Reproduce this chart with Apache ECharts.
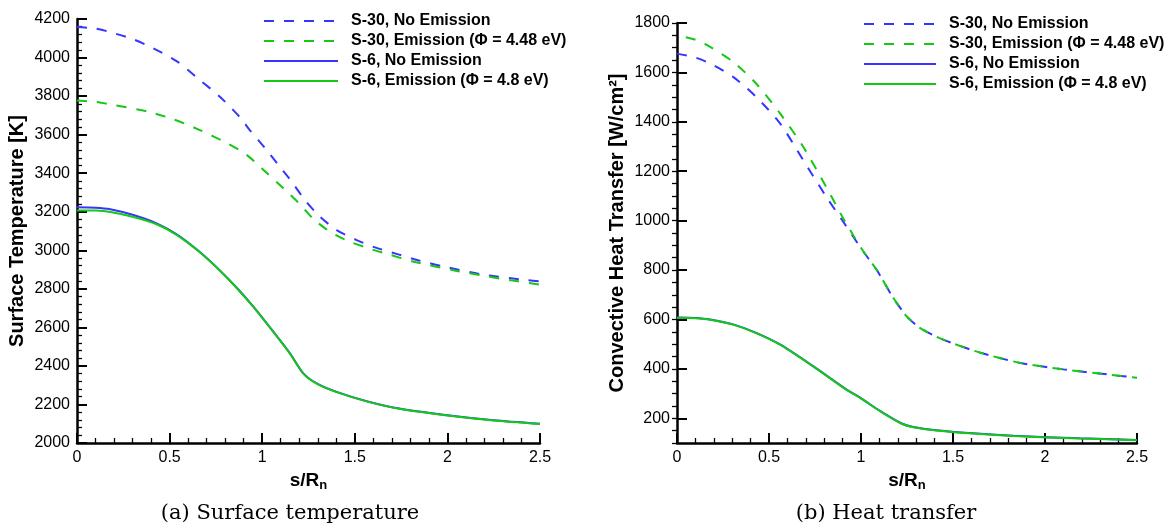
<!DOCTYPE html>
<html>
<head>
<meta charset="utf-8">
<script src="https://cdn.jsdelivr.net/npm/echarts@6/dist/echarts.min.js"></script>
<style>
html,body{margin:0;padding:0;background:#fff;}
#chart{width:1172px;height:527px;}
</style>
</head>
<body>
<div id="chart"></div>
<script>
// ---------- data (s/Rn, value) ----------
// (a) Surface temperature [K]
const tempS30NoEmission = [[0,4160],[0.1,4150],[0.16,4137],[0.3,4096],[0.41,4049],[0.54,3980],[0.66,3886],[0.77,3798],[0.88,3690],[0.934,3622],[1.015,3530],[1.087,3443],[1.159,3356],[1.231,3260],[1.312,3174],[1.402,3105],[1.51,3053],[1.609,3015],[1.73,2980],[1.85,2946],[1.98,2916],[2.19,2874],[2.43,2845],[2.5,2838]];
const tempS30Emission = [[0,3777],[0.1,3770],[0.18,3757],[0.38,3720],[0.52,3680],[0.66,3625],[0.81,3556],[0.916,3495],[1.024,3402],[1.114,3322],[1.195,3247],[1.276,3163],[1.366,3096],[1.474,3044],[1.591,3005],[1.67,2982],[1.83,2938],[2.05,2893],[2.28,2854],[2.5,2822]];
const tempS6NoEmission = [[0,3223],[0.1,3221],[0.18,3213],[0.3,3184],[0.43,3140],[0.54,3082],[0.66,2994],[0.76,2906],[0.86,2808],[0.95,2710],[1.05,2590],[1.15,2465],[1.222,2361],[1.294,2309],[1.402,2265],[1.564,2217],[1.74,2179],[2.0,2144],[2.25,2118],[2.5,2100]];
const tempS6Emission = [[0,3207],[0.1,3206],[0.18,3199],[0.3,3174],[0.43,3135],[0.54,3079],[0.66,2992],[0.76,2905],[0.86,2807],[0.95,2709],[1.05,2589],[1.15,2464],[1.222,2360],[1.294,2308],[1.402,2264],[1.564,2216],[1.74,2178],[2.0,2143],[2.25,2117],[2.5,2099]];
// (b) Convective heat transfer [W/cm2]
const heatS30NoEmission = [[0,1676],[0.1,1660],[0.18,1636],[0.305,1582],[0.43,1501],[0.56,1394],[0.685,1246],[0.81,1098],[0.913,985],[1.0125,875],[1.085,801],[1.176,687],[1.248,613],[1.32,566],[1.41,530],[1.5,503],[1.65,465],[1.86,425],[2.1,398],[2.335,378],[2.5,364]];
const heatS30Emission = [[0,1750],[0.1,1732],[0.18,1703],[0.305,1643],[0.43,1555],[0.56,1434],[0.685,1300],[0.81,1138],[0.913,997],[1.0125,876],[1.085,801],[1.176,687],[1.248,613],[1.32,566],[1.41,530],[1.5,503],[1.65,465],[1.86,425],[2.1,398],[2.335,378],[2.5,364]];
const heatS6NoEmission = [[0,608],[0.1,606],[0.18,600],[0.305,580],[0.43,546],[0.56,499],[0.74,411],[0.92,317],[0.995,284],[1.103,230],[1.221,179],[1.284,165],[1.41,152],[1.63,138],[1.83,129],[2.19,119],[2.5,112]];
const heatS6Emission = [[0,607],[0.1,605],[0.18,599],[0.305,579],[0.43,545],[0.56,498],[0.74,410],[0.92,316],[0.995,283],[1.103,229],[1.221,178],[1.284,164],[1.41,151],[1.63,137],[1.83,128],[2.19,118],[2.5,111]];

const seriesNames = ['S-30, No Emission','S-30, Emission (\u03A6 = 4.48 eV)','S-6, No Emission','S-6, Emission (\u03A6 = 4.8 eV)'];
const heatTicks = [200,400,600,800,1000,1200,1400,1600,1800];
const captions = ['(a) Surface temperature','(b) Heat transfer'];
const yTitles = ['Surface Temperature [K]','Convective Heat Transfer [W/cm\u00B2]'];

// ---------- styles ----------
const BLUE = '#3535ff';
const GREEN = '#14c814';
const FONT = 'Liberation Sans';
const DASH = [10, 10];
const plain = v => String(v);

const chart = echarts.init(document.getElementById('chart'), null, {renderer:'canvas'});

function xAxisCfg(gridIndex){
  return {
    type:'value', gridIndex, min:0, max:2.5, interval:0.5,
    name:'{a|s/R}{b|n}', nameLocation:'middle', nameGap:19,
    nameTextStyle:{ rich:{
      a:{fontFamily:FONT,fontWeight:'bold',fontSize:19,color:'#000'},
      b:{fontFamily:FONT,fontWeight:'bold',fontSize:13,color:'#000',padding:[10,0,0,0]}
    }},
    axisLine:{show:true,onZero:false,lineStyle:{color:'#000',width:2.5}},
    axisTick:{show:true,inside:true,length:10,lineStyle:{color:'#000',width:2}},
    minorTick:{show:true,splitNumber:5,length:5,lineStyle:{color:'#000',width:1.3}},
    axisLabel:{color:'#000',fontFamily:FONT,fontSize:16,margin:7,formatter:plain},
    splitLine:{show:false}
  };
}
function legendCfg(left, top, w){
  return {
    left, top, padding:0, orient:'vertical', itemWidth:w, itemHeight:14, itemGap:4,
    data:seriesNames, selectedMode:false,
    itemStyle:{opacity:0},
    textStyle:{fontFamily:FONT,fontWeight:'bold',fontSize:16,lineHeight:16,color:'#000',padding:[0,0,0,8]}
  };
}
function lineSeries(name, xi, data, color, dashed, dashOffset){
  const ls = {color, width:2};
  if (dashed) { ls.type = DASH; ls.dashOffset = dashOffset || 0; }
  return {name, type:'line', xAxisIndex:xi, yAxisIndex:xi, data, symbol:'none', showSymbol:false,
          smooth:0.25, color, lineStyle:ls};
}

const option = {
  backgroundColor:'#fff',
  animation:false,
  grid:[
    {left:77, right:632, top:19, bottom:84},
    {left:677, right:35, top:23, bottom:84}
  ],
  legend:[ legendCfg(263, 13, 74), legendCfg(863, 16, 72) ],
  xAxis:[xAxisCfg(0), xAxisCfg(1)],
  yAxis:[
    {
      type:'value', gridIndex:0, min:2000, max:4200, interval:200,
      name:yTitles[0], nameLocation:'middle', nameRotate:90, nameGap:50,
      nameTextStyle:{fontFamily:FONT,fontWeight:'bold',fontSize:20,color:'#000'},
      axisLine:{show:true,onZero:false,lineStyle:{color:'#000',width:2.5}},
      axisTick:{show:true,inside:true,length:10,lineStyle:{color:'#000',width:2}},
      minorTick:{show:true,splitNumber:5,length:5,lineStyle:{color:'#000',width:1.3}},
      axisLabel:{color:'#000',fontFamily:FONT,fontSize:16,margin:7,formatter:plain},
      splitLine:{show:false}
    },
    {
      type:'value', gridIndex:1, min:100, max:1800,
      name:yTitles[1], nameLocation:'middle', nameRotate:90, nameGap:50,
      nameTextStyle:{fontFamily:FONT,fontWeight:'bold',fontSize:20,color:'#000'},
      axisLine:{show:true,onZero:false,lineStyle:{color:'#000',width:2.5}},
      axisTick:{show:true,inside:true,length:10,customValues:heatTicks,lineStyle:{color:'#000',width:2}},
      axisLabel:{color:'#000',fontFamily:FONT,fontSize:16,margin:7,customValues:heatTicks,formatter:plain},
      splitLine:{show:false}
    },
    {
      type:'value', gridIndex:1, min:100, max:1800, interval:50,
      axisLine:{show:false},
      axisTick:{show:true,inside:true,length:5,lineStyle:{color:'#000',width:1.3}},
      axisLabel:{show:false},
      splitLine:{show:false}
    }
  ],
  series:[
    lineSeries(seriesNames[0], 0, tempS30NoEmission, BLUE, true),
    lineSeries(seriesNames[1], 0, tempS30Emission, GREEN, true),
    lineSeries(seriesNames[2], 0, tempS6NoEmission, BLUE, false),
    lineSeries(seriesNames[3], 0, tempS6Emission, GREEN, false),
    lineSeries(seriesNames[0], 1, heatS30NoEmission, BLUE, true),
    lineSeries(seriesNames[1], 1, heatS30Emission, GREEN, true, 11),
    lineSeries(seriesNames[2], 1, heatS6NoEmission, BLUE, false),
    lineSeries(seriesNames[3], 1, heatS6Emission, GREEN, false)
  ],
  graphic:[
    {type:'text',style:{text:captions[0],fontFamily:'DejaVu Serif',fontSize:21,fill:'#000',x:290,y:514,align:'center',verticalAlign:'middle'}},
    {type:'text',style:{text:captions[1],fontFamily:'DejaVu Serif',fontSize:21,fill:'#000',x:886,y:514,align:'center',verticalAlign:'middle'}}
  ]
};
chart.setOption(option);
</script>
</body>
</html>
